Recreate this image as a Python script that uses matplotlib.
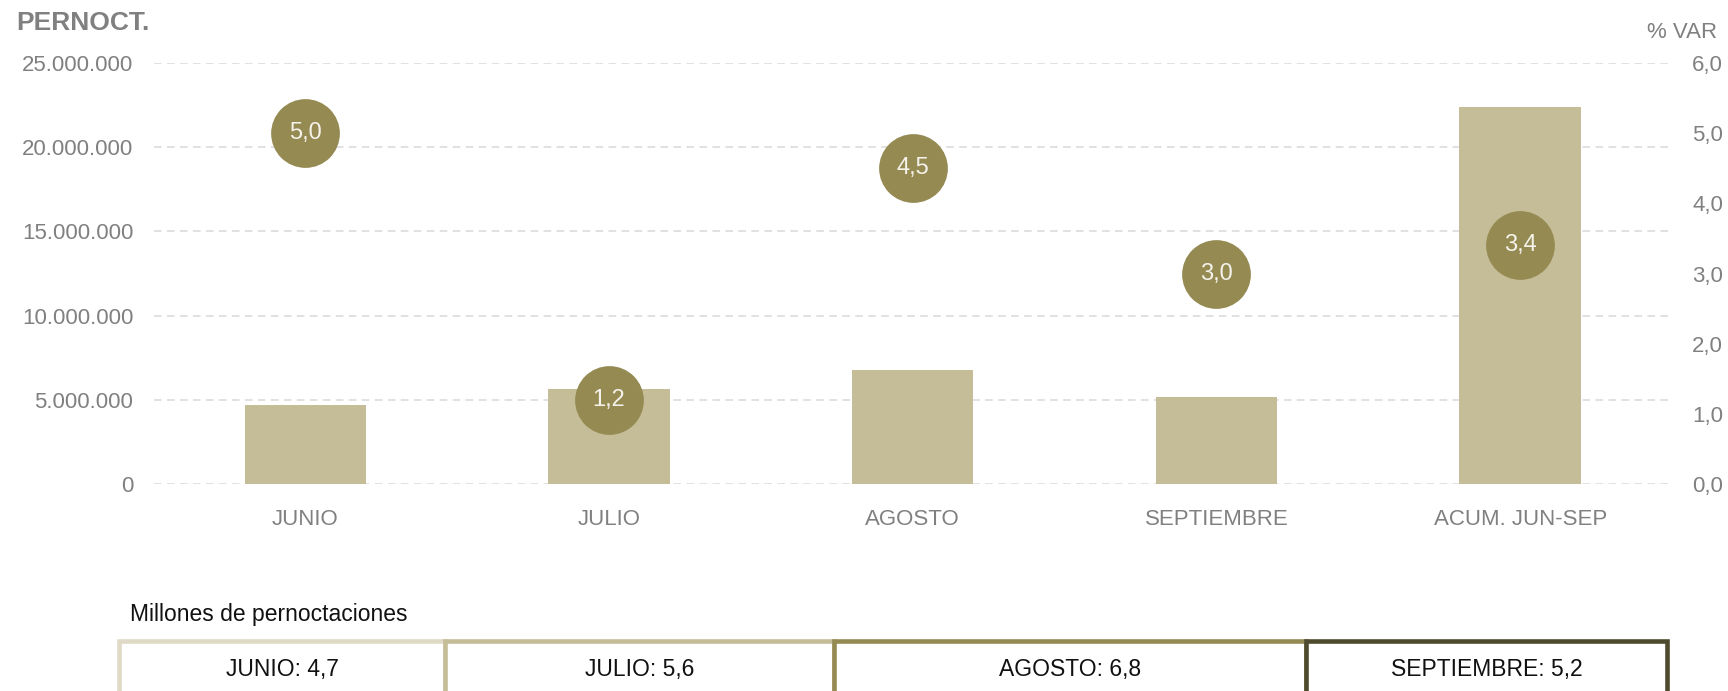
import matplotlib
matplotlib.use("Agg")
import matplotlib.pyplot as plt
import numpy as np

# ---- data ----
categories = ["JUNIO", "JULIO", "AGOSTO", "SEPTIEMBRE", "ACUM. JUN-SEP"]
pernoctaciones = [4_700_000, 5_650_000, 6_770_000, 5_170_000, 22_390_000]
pct_var = [5.0, 1.2, 4.5, 3.0, 3.4]
left_ticks = [0, 5_000_000, 10_000_000, 15_000_000, 20_000_000, 25_000_000]
right_ticks = [0, 1, 2, 3, 4, 5, 6]
table_labels = ["JUNIO", "JULIO", "AGOSTO", "SEPTIEMBRE"]
table_values = [4.7, 5.6, 6.8, 5.2]
table_colors = ["#dedac6", "#c4bd97", "#958a52", "#4e4a2e"]

FONT = ["Liberation Sans Narrow", "Liberation Sans", "DejaVu Sans"]
plt.rcParams["font.family"] = FONT

BAR = "#c4bd97"
DOT = "#958a52"
GRAY = "#808080"

W, H = 1728, 691
fig = plt.figure(figsize=(W / 100, H / 100), dpi=100)

def px_axes(x0, x1, ytop, ybot):
    return fig.add_axes([x0 / W, 1 - ybot / H, (x1 - x0) / W, (ybot - ytop) / H])

ax = px_axes(153.5, 1672, 63, 484)
x = np.arange(len(categories))
ax.bar(x, pernoctaciones, width=0.4, color=BAR, zorder=2)
ax.set_xlim(-0.5, len(categories) - 0.5)
ax.set_ylim(0, 25_000_000)
ax.set_yticks(left_ticks)
ax.set_yticklabels([f"{v:,}".replace(",", ".") for v in left_ticks])
ax.set_xticks(x)
ax.set_xticklabels(categories)
ax.tick_params(axis="y", length=0, pad=14.5, labelsize=16, labelcolor=GRAY)
ax.tick_params(axis="x", length=0, pad=18, labelsize=16, labelcolor=GRAY)
ax.grid(axis="y", color="#d9d9d9", linestyle=(0, (5, 3.5)), linewidth=1.1, zorder=0)
ax.set_axisbelow(True)
for s in ax.spines.values():
    s.set_visible(False)

ax2 = ax.twinx()
ax2.set_ylim(0, 6)
ax2.set_yticks(right_ticks)
ax2.set_yticklabels([f"{v:.1f}".replace(".", ",") for v in right_ticks])
ax2.tick_params(axis="y", length=0, pad=14.5, labelsize=16, labelcolor=GRAY)
for s in ax2.spines.values():
    s.set_visible(False)
ax2.plot(x, pct_var, "o", ms=49.5, color=DOT, markeredgewidth=0, linestyle="none", zorder=3)
for xi, v in zip(x, pct_var):
    ax2.text(xi, v, f"{v:.1f}".replace(".", ","), ha="center", va="center",
             color="#f4f2ea", fontsize=17, zorder=4)

fig.text(16 / W, 1 - 23 / H, "PERNOCT.", fontsize=19, fontweight="bold",
         color=GRAY, ha="left", va="center")
fig.text(1717 / W, 1 - 32 / H, "% VAR", fontsize=16, color=GRAY, ha="right", va="center")

# ---- bottom table ----
fig.text(130 / W, 1 - 614 / H, "Millones de pernoctaciones", fontsize=16.5,
         color="#111111", ha="left", va="center")
axt = px_axes(119, 1667, 640.5, 691)
lefts = np.concatenate([[0], np.cumsum(table_values)[:-1]])
for lab, v, l, c in zip(table_labels, table_values, lefts, table_colors):
    axt.barh(0, v, left=l, height=2.0, align="edge", facecolor="white",
             edgecolor=c, linewidth=3.3, clip_on=False)
    axt.text(l + v / 2, 0.57, f"{lab}: {v:.1f}".replace(".", ","), ha="center",
             va="center", fontsize=16.5, color="#111111")
axt.set_xlim(0, sum(table_values))
axt.set_ylim(1.0, 0)
axt.axis("off")

fig.savefig("out.png", dpi=100)
